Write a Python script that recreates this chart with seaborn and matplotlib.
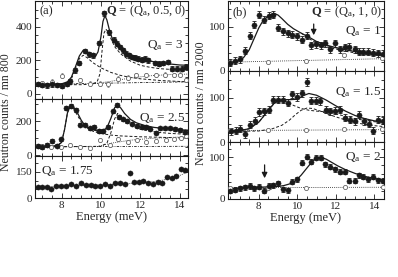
import matplotlib
matplotlib.use("Agg")
import matplotlib.pyplot as plt
from matplotlib.ticker import MultipleLocator
import seaborn as sns

# ---------------- panel (a): Q = (Qa, 0.5, 0) ----------------
# Qa = 3
a3_E = [6.78, 7.03, 7.28, 7.5, 7.75, 8.0, 8.25, 8.45, 8.7, 8.9, 9.17, 9.4, 9.6, 9.9,
        10.17, 10.4, 10.65, 10.8, 10.95, 11.1, 11.25, 11.4, 11.6, 11.75, 11.9, 12.1,
        12.25, 12.4, 12.75, 12.95, 13.15, 13.4, 13.6, 13.85, 14.1, 14.3]
a3_I = [59, 53, 51, 58, 53, 49, 59, 76, 141, 184, 255, 235, 229, 302,
        478, 366, 322, 298, 278, 259, 239, 229, 219, 216, 210, 204,
        210, 200, 184, 180, 184, 190, 151, 151, 151, 161]
a3_bgE = [7.03, 7.5, 8.0, 8.95, 9.45, 9.95, 10.37, 10.87, 11.35, 11.8, 12.3, 12.8, 13.25, 13.7, 14.0, 14.3]
a3_bgI = [65, 72, 108, 82, 60, 62, 58, 90, 96, 110, 112, 112, 115, 112, 115, 82]
a3_fitE = [6.65, 7.0, 7.5, 8.0, 8.3, 8.5, 8.7, 8.9, 9.1, 9.3, 9.5, 9.7, 9.85, 10.0, 10.1,
           10.2, 10.3, 10.45, 10.6, 10.8, 11.0, 11.3, 11.6, 12.0, 12.5, 13.0, 13.5, 14.0, 14.42]
a3_fitI = [58, 57, 57, 60, 72, 100, 160, 225, 260, 245, 225, 220, 250, 340, 430,
           465, 440, 370, 320, 290, 268, 245, 228, 210, 195, 185, 178, 172, 170]
a3_c1E = [6.65, 7.5, 8.0, 8.3, 8.5, 8.7, 8.9, 9.1, 9.3, 9.6, 10.0, 10.5, 11.0, 11.5, 12.0, 13.0, 14.0, 14.42]
a3_c1I = [55, 55, 57, 65, 90, 150, 210, 230, 215, 185, 155, 128, 110, 98, 90, 80, 74, 72]
a3_c2E = [6.65, 9.0, 9.5, 9.8, 9.95, 10.05, 10.15, 10.25, 10.35, 10.5, 10.7, 11.0, 11.5, 12.0, 12.5, 13.0, 14.0, 14.42]
a3_c2I = [55, 55, 58, 70, 120, 250, 360, 385, 370, 330, 280, 238, 195, 170, 158, 150, 142, 140]
a3_bglE = [6.65, 14.42]
a3_bglI = [57, 72]
a3_dotE = [9.5, 10.5, 11.5, 12.5, 13.5, 14.42]
a3_dotI = [58, 75, 95, 108, 115, 118]

# Qa = 2.5
a25_E = [6.78, 7.03, 7.28, 7.5, 7.75, 7.98, 8.23, 8.48, 8.73, 8.95, 9.18, 9.42, 9.65, 9.88,
         10.1, 10.38, 10.6, 10.82, 10.92, 11.1, 11.3, 11.57, 11.85, 12.07, 12.3, 12.5, 12.77,
         13.0, 13.25, 13.5, 13.75, 14.0, 14.25]
a25_I = [53, 45, 59, 82, 55, 92, 278, 290, 265, 180, 180, 157, 165, 143,
         141, 165, 257, 294, 225, 210, 200, 186, 172, 166, 163, 155, 133,
         157, 157, 157, 153, 147, 137]
a25_bgE = [7.03, 7.48, 7.98, 8.45, 8.95, 9.45, 9.95, 10.45, 10.87, 11.37, 11.85, 12.3, 12.8, 13.3, 13.7, 14.05, 14.3]
a25_bgI = [53, 45, 45, 60, 49, 43, 88, 59, 92, 75, 90, 80, 85, 90, 95, 100, 110]
a25_fitE = [6.65, 7.5, 7.8, 8.0, 8.15, 8.3, 8.45, 8.6, 8.8, 9.0, 9.2, 9.5, 9.8, 10.1, 10.3,
            10.5, 10.7, 10.85, 11.0, 11.2, 11.5, 11.8, 12.2, 12.7, 13.2, 13.7, 14.2, 14.42]
a25_fitI = [48, 52, 58, 75, 150, 250, 292, 285, 250, 205, 172, 152, 143, 145, 160,
            215, 280, 296, 278, 245, 210, 190, 175, 163, 157, 152, 148, 147]
a25_c1E = [6.65, 7.8, 8.0, 8.15, 8.3, 8.45, 8.6, 8.8, 9.0, 9.3, 9.6, 10.0, 10.5, 11.0, 12.0, 13.0, 14.42]
a25_c1I = [48, 55, 75, 150, 250, 285, 275, 235, 195, 160, 140, 127, 118, 113, 108, 105, 100]
a25_c2E = [6.65, 10.0, 10.3, 10.5, 10.7, 10.85, 11.0, 11.3, 11.6, 12.0, 12.5, 13.0, 13.5, 14.42]
a25_c2I = [48, 52, 70, 130, 215, 245, 232, 195, 170, 152, 140, 133, 128, 122]
a25_bglE = [6.65, 14.42]
a25_bglI = [49, 52]
a25_dotE = [9.8, 10.5, 11.5, 12.5, 13.5, 14.42]
a25_dotI = [50, 70, 88, 98, 104, 108]

# Qa = 1.75
a175_E = [6.78, 7.03, 7.28, 7.48, 7.73, 7.98, 8.23, 8.48, 8.73, 8.98, 9.23, 9.48, 9.7, 9.95,
          10.2, 10.45, 10.7, 10.95, 11.2, 11.45, 11.67, 11.92, 12.15, 12.4, 12.65, 12.9,
          13.12, 13.37, 13.6, 13.83, 14.05, 14.25]
a175_I = [65, 65, 65, 50, 69, 69, 69, 79, 71, 85, 75, 75, 71, 69,
          79, 69, 85, 85, 81, 146, 90, 90, 98, 88, 81, 94,
          85, 123, 113, 127, 165, 162]
a175_dotE = [6.65, 8.0, 9.0, 10.0, 11.0, 12.0, 12.5, 13.0, 13.5, 14.0, 14.42]
a175_dotI = [65, 68, 72, 75, 80, 88, 92, 100, 112, 130, 150]

# ---------------- panel (b): Q = (Qa, 1, 0) ----------------
# Qa = 1
b1_E = [6.5, 6.76, 7.02, 7.28, 7.53, 7.76, 8.0, 8.26, 8.52, 8.76, 9.0, 9.26, 9.52, 9.74,
        9.98, 10.24, 10.48, 10.72, 10.98, 11.24, 11.45, 11.72, 11.97, 12.23, 12.49, 12.7,
        12.97, 13.19, 13.43, 13.69, 13.95, 14.2, 14.43]
b1_I = [19, 23, 27, 46, 80, 105, 128, 116, 126, 128, 98, 90, 86, 82,
        79, 71, 80, 59, 61, 59, 63, 49, 63, 49, 54, 55,
        49, 44, 44, 44, 42, 40, 39]
b1_bgE = [6.5, 8.48, 10.47, 12.4, 14.4]
b1_bgI = [21, 21, 23, 36, 30]
b1_fitE = [6.4, 6.8, 7.2, 7.5, 7.8, 8.0, 8.2, 8.4, 8.6, 8.8, 9.0, 9.2, 9.5, 9.8, 10.2,
           10.6, 11.0, 11.5, 12.0, 12.5, 13.0, 13.5, 14.0, 14.5]
b1_fitI = [17, 20, 30, 48, 78, 98, 113, 122, 128, 131, 127, 119, 106, 96, 86,
           77, 67, 59, 53, 48, 44, 41, 38, 36]
b1_c1E = [10.2, 10.6, 11.0, 11.5, 12.0, 12.5, 13.0, 13.5, 14.0, 14.5]
b1_c1I = [86, 74, 63, 55, 50, 45, 41, 38, 36, 34]
b1_dotE = [6.4, 14.5]
b1_dotI = [20, 28]
b1_arrowE = [10.85]
b1_arrowI = [113, 75]

# Qa = 1.5
b15_E = [6.55, 6.8, 7.02, 7.28, 7.53, 7.79, 8.02, 8.27, 8.52, 8.76, 9.0, 9.26, 9.52, 9.74,
         10.0, 10.25, 10.5, 10.72, 10.98, 11.19, 11.47, 11.71, 11.97, 12.23, 12.49, 12.74,
         12.97, 13.22, 13.48, 13.74, 13.95, 14.2, 14.43]
b15_I = [24, 26, 30, 18, 39, 48, 68, 70, 73, 96, 96, 96, 89, 108,
         102, 110, 136, 94, 94, 92, 73, 70, 71, 73, 55, 51,
         47, 62, 47, 41, 26, 51, 48]
b15_bgE = [6.5, 8.48, 10.45, 12.4, 14.4]
b15_bgI = [28, 28, 27, 29, 29]
b15_fitE = [6.4, 7.0, 7.5, 8.0, 8.5, 8.8, 9.0, 9.3, 9.6, 10.0, 10.3, 10.6, 11.0, 11.5,
            12.0, 12.5, 13.0, 13.5, 14.0, 14.5]
b15_fitI = [24, 26, 30, 45, 72, 88, 94, 96, 96, 97, 105, 110, 106, 95,
            82, 70, 60, 53, 48, 45]
b15_c1E = [6.4, 7.0, 7.5, 8.0, 8.5, 8.8, 9.1, 9.4, 9.8, 10.2, 10.6, 11.0, 11.6, 12.0,
           12.5, 13.0, 13.5, 14.0, 14.5]
b15_c1I = [24, 26, 30, 45, 72, 88, 95, 92, 83, 76, 72, 70, 68, 64,
           58, 53, 49, 46, 44]
b15_c2E = [6.4, 8.0, 8.7, 9.2, 9.6, 9.9, 10.2, 10.5, 10.8, 11.2, 11.6, 12.0, 12.5, 13.0,
           13.5, 14.0, 14.5]
b15_c2I = [24, 25, 30, 38, 50, 62, 72, 77, 76, 70, 63, 57, 50, 44, 40, 37, 35]
b15_dotE = [6.4, 14.5]
b15_dotI = [26, 28]

# Qa = 2
b2_E = [6.5, 6.76, 7.0, 7.28, 7.53, 7.76, 8.0, 8.26, 8.52, 8.76, 9.0, 9.26, 9.52, 9.74,
        9.98, 10.24, 10.48, 10.72, 10.98, 11.24, 11.45, 11.72, 11.97, 12.23, 12.49, 12.7,
        12.97, 13.19, 13.43, 13.69, 13.95, 14.2, 14.43]
b2_I = [20, 22, 26, 28, 31, 26, 29, 20, 31, 33, 37, 23, 21, 41,
        47, 87, 101, 89, 99, 99, 83, 77, 71, 65, 65, 44,
        44, 57, 53, 47, 53, 45, 44]
b2_bgE = [6.5, 8.48, 10.47, 12.45, 14.43]
b2_bgI = [27, 27, 27, 28, 28]
b2_fitE = [6.4, 7.0, 7.5, 8.0, 8.5, 9.0, 9.3, 9.6, 9.9, 10.2, 10.5, 10.8, 11.0, 11.2,
           11.5, 11.8, 12.1, 12.5, 13.0, 13.5, 14.0, 14.5]
b2_fitI = [24, 26, 27, 28, 29, 30, 32, 36, 43, 57, 74, 91, 98, 100,
           95, 87, 79, 70, 61, 54, 49, 45]
b2_dotE = [6.4, 14.5]
b2_dotI = [27, 28]
b2_arrowE = [8.3]
b2_arrowI = [88, 43]

sns.set_theme(style="ticks")
plt.rcParams["font.family"] = ["Liberation Serif", "DejaVu Serif"]
plt.rcParams["mathtext.fontset"] = "custom"
plt.rcParams["mathtext.rm"] = "Liberation Serif"
plt.rcParams["mathtext.it"] = "Liberation Serif:italic"
plt.rcParams["mathtext.bf"] = "Liberation Serif:bold"

fig = plt.figure(figsize=(3.98, 2.77), dpi=100)

W, H = 398.0, 277.0


def make_ax(x0, x1, y0, y1):
    # pixel box (top-left origin) -> figure fraction
    return fig.add_axes([x0 / W, 1 - y1 / H, (x1 - x0) / W, (y1 - y0) / H])


def style_ax(ax, xlim, ylim, ymaj, ymin, bottom=False):
    ax.set_xlim(*xlim)
    ax.set_ylim(*ylim)
    ax.xaxis.set_major_locator(MultipleLocator(2))
    ax.xaxis.set_minor_locator(MultipleLocator(0.5))
    ax.yaxis.set_major_locator(MultipleLocator(ymaj))
    ax.yaxis.set_minor_locator(MultipleLocator(ymin))
    ax.tick_params(which="both", direction="in", top=True, right=True,
                   labelsize=8, pad=2, width=0.6, color="k")
    ax.tick_params(which="major", length=3.5)
    ax.tick_params(which="minor", length=2)
    if not bottom:
        ax.tick_params(labelbottom=False)
    for s in ax.spines.values():
        s.set_linewidth(0.8)
        s.set_color("k")
    ax.set_xlabel("")
    ax.set_ylabel("")


def points(ax, E, I, err):
    ax.errorbar(E, I, yerr=err, fmt="none", ecolor="k", elinewidth=0.6,
                capsize=1.2, capthick=0.6, zorder=3)
    sns.scatterplot(x=E, y=I, ax=ax, color="k", s=14, edgecolor="k",
                    linewidth=0.3, zorder=4, legend=False)


def open_points(ax, E, I, err):
    if err:
        ax.errorbar(E, I, yerr=err, fmt="none", ecolor="#777777", elinewidth=0.5,
                    capsize=1.0, capthick=0.5, zorder=3)
    sns.scatterplot(x=E, y=I, ax=ax, color="white", s=9, edgecolor="#666666",
                    linewidth=0.6, zorder=4, legend=False)


def curve(ax, E, I, ls, lw=0.7):
    sns.lineplot(x=E, y=I, ax=ax, color="k", linewidth=lw, linestyle=ls,
                 errorbar=None, zorder=2)


DASH = (0, (3.0, 2.0))
DOT = (0, (1.0, 1.5))
DASHDOT = (0, (3.0, 1.5, 1.0, 1.5))

QA = r"Q$_{\rm a}$"
ARROW = dict(arrowstyle="-|>", color="k", lw=0.9, mutation_scale=8)

# ---------- panel (a) ----------
xa = (6.65, 14.42)
ax = make_ax(35, 188, 1, 99)
curve(ax, a3_bglE, a3_bglI, DASHDOT, 0.6)
curve(ax, a3_dotE, a3_dotI, DOT, 0.6)
curve(ax, a3_c1E, a3_c1I, DASH)
curve(ax, a3_c2E, a3_c2I, DASH)
curve(ax, a3_fitE, a3_fitI, "-", 0.9)
open_points(ax, a3_bgE, a3_bgI, 14)
points(ax, a3_E, a3_I, 14)
style_ax(ax, xa, (-30, 552), 200, 50)
ax.text(0.03, 0.9, "(a)", transform=ax.transAxes, fontsize=9, va="center")
ax.text(0.99, 0.9, r"$\mathbf{Q}$ = (" + QA + ", 0.5, 0)", transform=ax.transAxes,
        fontsize=9, va="center", ha="right")
ax.text(0.97, 0.55, QA + " = 3", transform=ax.transAxes, fontsize=9.5, va="center", ha="right")

ax = make_ax(35, 188, 99, 156)
curve(ax, a25_bglE, a25_bglI, DASHDOT, 0.6)
curve(ax, a25_dotE, a25_dotI, DOT, 0.6)
curve(ax, a25_c1E, a25_c1I, DASH)
curve(ax, a25_c2E, a25_c2I, DASH)
curve(ax, a25_fitE, a25_fitI, "-", 0.9)
open_points(ax, a25_bgE, a25_bgI, 10)
points(ax, a25_E, a25_I, 10)
style_ax(ax, xa, (-5, 330), 200, 50)
ax.text(0.98, 0.67, QA + " = 2.5", transform=ax.transAxes, fontsize=9.5, va="center", ha="right")

ax = make_ax(35, 188, 156, 198)
curve(ax, a175_dotE, a175_dotI, DOT, 0.6)
points(ax, a175_E, a175_I, 6)
style_ax(ax, xa, (0, 242), 150, 50, bottom=True)
ax.text(0.04, 0.64, QA + " = 1.75", transform=ax.transAxes, fontsize=9.5, va="center")
ax.set_xlabel("Energy (meV)", fontsize=9, labelpad=1)

# ---------- panel (b) ----------
xb = (6.4, 14.5)
ax = make_ax(228, 384, 1, 71)
curve(ax, b1_dotE, b1_dotI, DOT, 0.6)
curve(ax, b1_c1E, b1_c1I, DASH)
curve(ax, b1_fitE, b1_fitI, "-", 0.9)
open_points(ax, b1_bgE, b1_bgI, 0)
points(ax, b1_E, b1_I, 8)
ax.annotate("", xy=(b1_arrowE[0], b1_arrowI[1]), xytext=(b1_arrowE[0], b1_arrowI[0]),
            arrowprops=ARROW)
style_ax(ax, xb, (0, 159), 100, 20)
ax.text(0.03, 0.84, "(b)", transform=ax.transAxes, fontsize=9, va="center")
ax.text(0.99, 0.84, r"$\mathbf{Q}$ = (" + QA + ", 1, 0)", transform=ax.transAxes,
        fontsize=9, va="center", ha="right")
ax.text(0.98, 0.57, QA + " = 1", transform=ax.transAxes, fontsize=9.5, va="center", ha="right")

ax = make_ax(228, 384, 71, 142)
curve(ax, b15_dotE, b15_dotI, DOT, 0.6)
curve(ax, b15_c1E, b15_c1I, DASH)
curve(ax, b15_c2E, b15_c2I, DASH)
curve(ax, b15_fitE, b15_fitI, "-", 0.9)
open_points(ax, b15_bgE, b15_bgI, 0)
points(ax, b15_E, b15_I, 8)
style_ax(ax, xb, (0, 161), 100, 20)
ax.text(0.98, 0.70, QA + " = 1.5", transform=ax.transAxes, fontsize=9.5, va="center", ha="right")

ax = make_ax(228, 384, 142, 199)
curve(ax, b2_dotE, b2_dotI, DOT, 0.6)
curve(ax, b2_fitE, b2_fitI, "-", 0.9)
open_points(ax, b2_bgE, b2_bgI, 0)
points(ax, b2_E, b2_I, 6)
ax.annotate("", xy=(b2_arrowE[0], b2_arrowI[1]), xytext=(b2_arrowE[0], b2_arrowI[0]),
            arrowprops=ARROW)
style_ax(ax, xb, (0, 136), 100, 20, bottom=True)
ax.text(0.98, 0.74, QA + " = 2", transform=ax.transAxes, fontsize=9.5, va="center", ha="right")
ax.set_xlabel("Energy (meV)", fontsize=9, labelpad=1)

fig.text(6 / W, 1 - 112 / H, "Neutron counts / mn 800", rotation=90,
         fontsize=8.5, ha="center", va="center")
fig.text(201 / W, 1 - 103 / H, "Neutron counts / mn 2000", rotation=90,
         fontsize=8.5, ha="center", va="center")

fig.savefig("out.png", dpi=100)
